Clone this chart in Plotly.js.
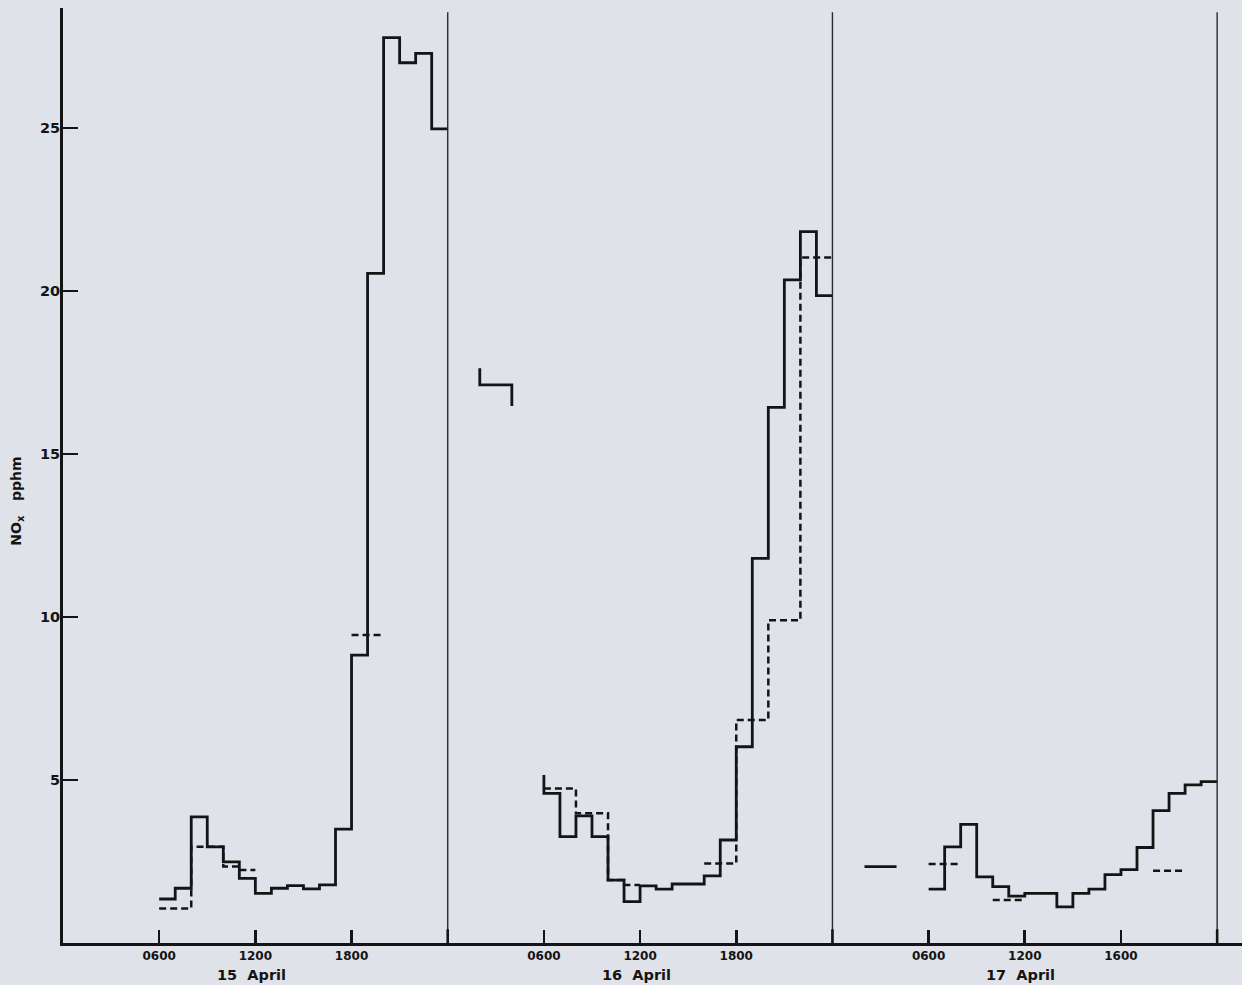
<!DOCTYPE html>
<html>
<head>
<meta charset="utf-8">
<script src="https://cdn.plot.ly/plotly-3.0.1.min.js"></script>
<style>
  html, body { margin: 0; padding: 0; background: #dfe2e8; }
  #chart { width: 1242px; height: 985px; }
</style>
</head>
<body>
<div id="chart"></div>
<script>
// Hours are counted from 0000 on 15 April (0..72). Each array holds hourly mean NOx (pphm).
const dayLabels = ['15\u00a0\u00a0April', '16\u00a0\u00a0April', '17\u00a0\u00a0April'];
const tickHours = [6, 12, 18, 30, 36, 42, 54, 60, 66];
const tickText  = ['0600', '1200', '1800', '0600', '1200', '1800', '0600', '1200', '1600'];
const dayBounds = [24, 48, 72];
const yTicks = [5, 10, 15, 20, 25];

// 15 April
const solid15Start = 6;
const solid15 = [1.35, 1.68, 3.87, 2.95, 2.49, 1.98, 1.52, 1.68, 1.76, 1.66, 1.78, 3.49, 8.83, 20.54, 27.77, 27.0, 27.29, 24.97];
const dashed15aStart = 6;
const dashed15a = [1.06, 1.06, 2.95, 2.95, 2.35, 2.24];
const dashed15bStart = 18;
const dashed15b = [9.45, 9.45];

// 16 April
const solid16aStart = 26;
const solid16a = [17.12, 17.12];
const solid16aLead = 17.63, solid16aTrail = 16.47;
const solid16bStart = 30;
const solid16bLead = 5.15;
const solid16b = [4.59, 3.26, 3.9, 3.26, 1.93, 1.27, 1.75, 1.65, 1.81, 1.81, 2.06, 3.16, 6.02, 11.8, 16.43, 20.34, 21.82, 19.86];
const dashed16aStart = 30;
const dashed16a = [4.74, 4.74, 3.98, 3.98, 1.93, 1.78];
const dashed16bStart = 40;
const dashed16b = [2.44, 2.44, 6.84, 6.84, 9.9, 9.9, 21.03, 21.03];

// 17 April
const solid17aStart = 50;
const solid17a = [2.34, 2.34];
const solid17bStart = 54;
const solid17b = [1.65, 2.95, 3.64, 2.03, 1.73, 1.44, 1.52, 1.52, 1.11, 1.52, 1.65, 2.1, 2.25, 2.93, 4.06, 4.59, 4.85, 4.95];
const dashed17aStart = 54;
const dashed17a = [2.42, 2.42];
const dashed17bStart = 58;
const dashed17b = [1.32, 1.32];
const dashed17cStart = 68;
const dashed17c = [2.22, 2.22];

const INK = '#141414';
const BG = '#dfe2e8';

function stepTrace(start, values, dashed, lead, trail) {
  const x = [], y = [];
  if (lead !== undefined) { x.push(start); y.push(lead); }
  values.forEach((v, i) => { x.push(start + i); y.push(v); });
  x.push(start + values.length); y.push(values[values.length - 1]);
  if (trail !== undefined) { x.push(start + values.length); y.push(trail); }
  return {
    type: 'scatter', mode: 'lines', x: x, y: y,
    line: { shape: 'hv', color: INK, width: dashed ? 2.5 : 2.8, dash: dashed ? '7px,4px' : 'solid' },
    hoverinfo: 'skip', showlegend: false
  };
}

const traces = [
  stepTrace(solid15Start, solid15, false),
  stepTrace(dashed15aStart, dashed15a, true),
  stepTrace(dashed15bStart, dashed15b, true),
  stepTrace(solid16aStart, solid16a, false, solid16aLead, solid16aTrail),
  stepTrace(solid16bStart, solid16b, false, solid16bLead),
  stepTrace(dashed16aStart, dashed16a, true),
  stepTrace(dashed16bStart, dashed16b, true),
  stepTrace(solid17aStart, solid17a, false),
  stepTrace(solid17bStart, solid17b, false),
  stepTrace(dashed17aStart, dashed17a, true),
  stepTrace(dashed17bStart, dashed17b, true),
  stepTrace(dashed17cStart, dashed17c, true)
];

const shapes = [];
dayBounds.forEach(h => {
  shapes.push({ type: 'line', xref: 'x', yref: 'y', x0: h, x1: h, y0: 0, y1: 28.55,
    line: { color: '#2a2a2a', width: 1.4 } });
  shapes.push({ type: 'line', xref: 'x', yref: 'y', x0: h, x1: h, y0: 0, y1: 0.42,
    line: { color: INK, width: 2.6 } });
});

const annotations = dayLabels.map((t, i) => ({
  text: t, xref: 'x', yref: 'paper', x: 24 * i + 12, y: -0.034,
  xshift: -4, xanchor: 'center', yanchor: 'middle', showarrow: false,
  font: { family: 'DejaVu Sans', size: 14.5, color: INK, weight: 'bold' }
}));
annotations.push({
  text: 'NO<sub>x</sub>\u00a0\u00a0\u00a0pphm', xref: 'paper', yref: 'paper',
  x: -0.039, y: 0.472, textangle: -90, xanchor: 'center', yanchor: 'middle',
  showarrow: false, font: { family: 'DejaVu Sans', size: 14, color: INK, weight: 'bold' }
});

const layout = {
  width: 1242, height: 985,
  margin: { l: 63, r: 0, t: 8, b: 42 },
  paper_bgcolor: BG, plot_bgcolor: BG,
  showlegend: false,
  xaxis: {
    range: [0, 73.55], showgrid: false, zeroline: false,
    showline: true, linecolor: INK, linewidth: 3,
    tickmode: 'array', tickvals: tickHours, ticktext: tickText,
    ticks: 'inside', ticklen: 13, tickwidth: 2.6, tickcolor: INK,
    tickfont: { family: 'DejaVu Sans', size: 12, color: INK, weight: 'bold' }
  },
  yaxis: {
    range: [0, 28.68], showgrid: false, zeroline: false,
    showline: true, linecolor: INK, linewidth: 3,
    tickmode: 'array', tickvals: yTicks,
    ticks: 'inside', ticklen: 15, tickwidth: 2.6, tickcolor: INK,
    ticklabelstandoff: -3,
    tickfont: { family: 'DejaVu Sans', size: 14.5, color: INK, weight: 'bold' }
  },
  shapes: shapes,
  annotations: annotations
};

Plotly.newPlot('chart', traces, layout, { staticPlot: true, displayModeBar: false });
</script>
</body>
</html>
